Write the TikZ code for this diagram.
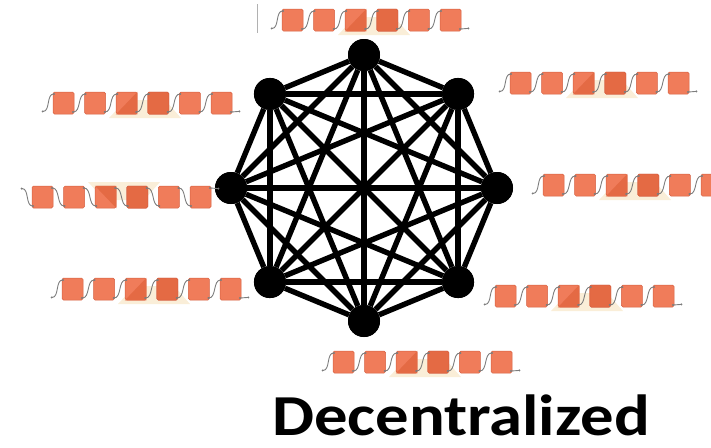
\documentclass[tikz,border=0pt]{standalone}
\usepackage{fontspec}
\setmainfont{Carlito}
\usepackage{xcolor}
\usepackage{tikz}
\usetikzlibrary{arrows.meta, positioning, calc}

\definecolor{blkorange}{RGB}{240,124,90}
\definecolor{blkdark}{RGB}{228,106,68}
\definecolor{blkline}{RGB}{214,96,66}
\definecolor{halobeige}{RGB}{250,238,216}
\definecolor{linkgray}{RGB}{125,125,125}

% one chain of six blocks: name, left x, top y, flip (1/-1), exit side, entry side
\newcommand{\blockchain}[6]{%
  \pgfmathsetmacro{\cy}{#3+11}
  \fill[halobeige] (#2+56,\cy+#4*15) -- (#2+73,\cy-#4*3) -- (#2+112,\cy-#4*3) -- (#2+128,\cy+#4*15) -- cycle;
  \foreach \i in {1,...,6}
    \node[blk] (#1-\i) at (#2+10.5+31.6*\i-31.6, \cy) {};
  \node[blk, fill=blkdark] at (#1-4) {};
  \fill[blkdark] (#1-3.#5 west) -- (#1-3.#6 east) -- (#1-3.#5 east) -- cycle;
  \coordinate (#1-in) at ($(#1-1.#5 west)!0.125!(#1-1.#6 west)+(-11,0)$);
  \coordinate (#1-out) at ($(#1-6.#5 east)!0.125!(#1-6.#6 east)+(8,0)$);
  \draw[link] (#1-in) to[out=0, in=180] ($(#1-1.#6 west)!0.2!(#1-1.center)$);
  \foreach \i [evaluate=\i as \j using int(\i+1)] in {1,...,5}
    \draw[link] ($(#1-\i.#5 east)!0.2!(#1-\i.center)$) to[out=0, in=180] ($(#1-\j.#6 west)!0.2!(#1-\j.center)$);
  \draw[link] ($(#1-6.#5 east)!0.2!(#1-6.center)$) to[out=0, in=180] (#1-out);
}

\begin{document}
\begin{tikzpicture}[
  x=1pt, y=-1pt,
  peer/.style={circle, fill=black, minimum size=32pt, inner sep=0pt},
  edge/.style={line width=5.4pt, black},
  blk/.style={rectangle, rounded corners=1.5pt, draw=blkline, line width=0.5pt, fill=blkorange, minimum width=21pt, minimum height=22pt, inner sep=0pt},
  link/.style={linkgray, line width=0.9pt, {Circle[length=1.8pt]}-{Circle[length=1.8pt]}},
  title/.style={font=\bfseries\fontsize{58}{60}\selectfont, xscale=1.15, transform shape, inner sep=0pt}
]
  \useasboundingbox (0,0) rectangle (711,447);

  % peers on a regular octagon
  \coordinate (hub) at (364,188);
  \foreach \i in {1,...,8}
    \node[peer] (n\i) at ($(hub)+(-90+45*\i-45:133)$) {};

  % every peer linked to every other
  \foreach \a in {1,...,7} {
    \pgfmathtruncatemacro{\s}{\a+1}
    \foreach \b in {\s,...,8}
      \draw[edge] (n\a) -- (n\b);
  }
  \foreach \i in {1,...,8}
    \node[peer] at (n\i) {};

  % ledgers held by the peers
  \draw[linkgray!60, line width=0.8pt] (257,4) -- (257,33);
  \blockchain{top}{282}{9}{1}{south}{north}
  \blockchain{ul}{53}{92}{1}{south}{north}
  \blockchain{ur}{510}{72}{1}{south}{north}
  \blockchain{lf}{32}{186}{-1}{north}{south}
  \blockchain{rt}{543}{174}{1}{south}{north}
  \blockchain{ll}{62}{278}{1}{south}{north}
  \blockchain{lr}{495}{285}{1}{south}{north}
  \blockchain{bot}{333}{351}{1}{south}{north}

  \node[title, anchor=base] (caption) at (461,435) {Decentralized};
\end{tikzpicture}
\end{document}
